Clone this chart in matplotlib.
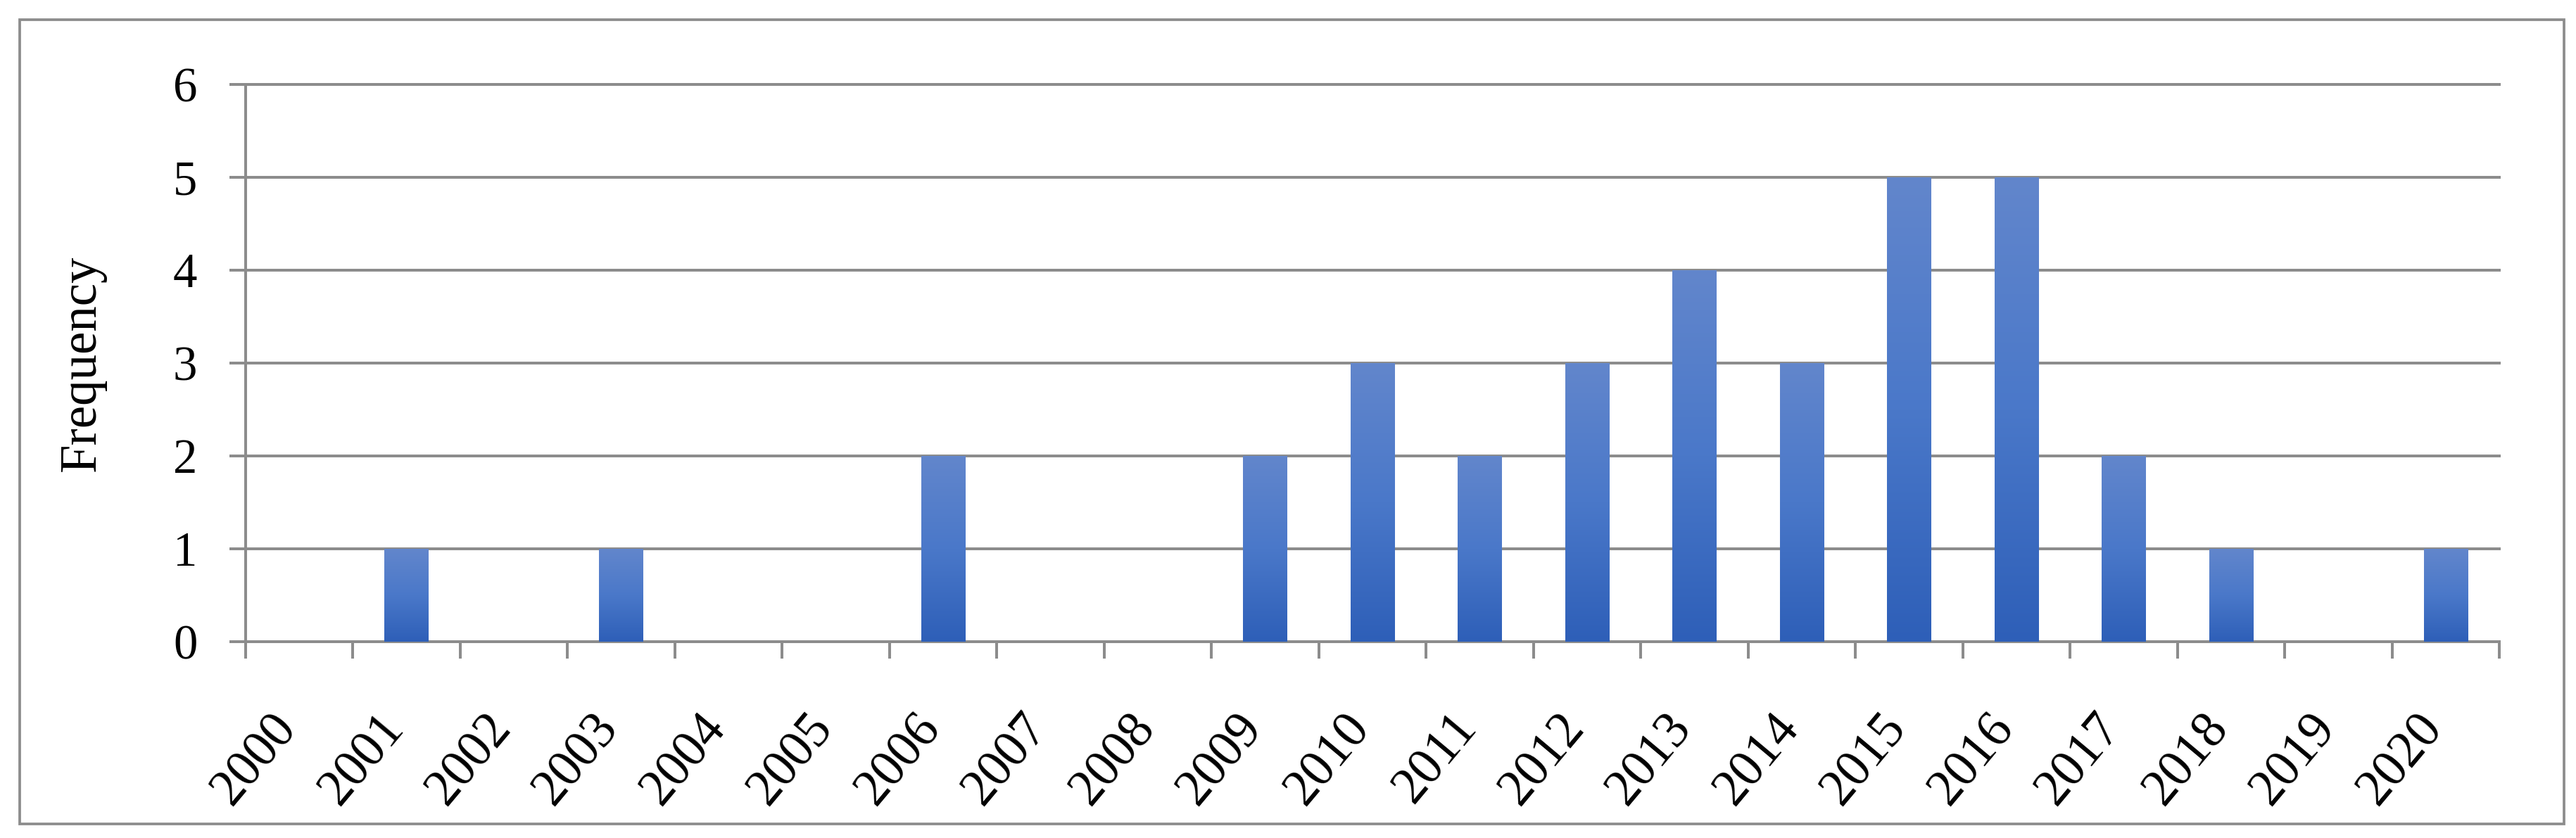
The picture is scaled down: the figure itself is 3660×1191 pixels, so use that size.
"""Frequency of publications per year, 2000-2020 (Excel-style gradient bars)."""
import matplotlib

matplotlib.use("Agg")
import matplotlib.pyplot as plt
import numpy as np
from matplotlib.colors import LinearSegmentedColormap
from matplotlib.patches import Rectangle
from matplotlib.transforms import ScaledTranslation

years = [str(y) for y in range(2000, 2021)]
counts = [0, 1, 0, 1, 0, 0, 2, 0, 0, 2, 3, 2, 3, 4, 3, 5, 5, 2, 1, 0, 1]
y_ticks = [0, 1, 2, 3, 4, 5, 6]

GRAY = "#8c8c8c"
FONT = "Liberation Serif"
FS = 16.5
plt.rcParams["font.family"] = [FONT, "DejaVu Serif"]

grad = LinearSegmentedColormap.from_list(
    "xl_blue", ["#2e5fb8", "#4a78c9", "#6286cc"])

fig = plt.figure(figsize=(12.2, 3.97), dpi=300)
# outer chart-area border
fig.add_artist(Rectangle((0.00765, 0.0168), 0.9877, 0.9597,
                         transform=fig.transFigure, fill=False,
                         edgecolor=GRAY, lw=0.9))

ax = fig.add_axes([0.09536, 0.23426, 0.87486, 0.66498])

x = np.arange(len(years)) + 0.5
bars = ax.bar(x, counts, width=0.41, color="none", edgecolor="none", zorder=3)
ramp = np.linspace(0, 1, 256).reshape(-1, 1)
for b in bars:
    h = b.get_height()
    if h <= 0:
        continue
    x0 = b.get_x()
    ax.imshow(ramp, extent=(x0, x0 + b.get_width(), 0, h), origin="lower",
              cmap=grad, aspect="auto", interpolation="bilinear", zorder=3)

ax.set_xlim(0, len(years))
ax.set_ylim(0, 6)

# y axis
ax.set_yticks(y_ticks)
ax.yaxis.grid(True, color=GRAY, lw=0.96, zorder=0)
for gl in ax.yaxis.get_gridlines():
    gl.set_clip_on(False)
ax.tick_params(axis="y", length=5.5, width=0.96, color=GRAY, pad=11,
               labelsize=FS, direction="out")
ax.set_ylabel("Frequency", fontsize=17.5)
ax.yaxis.set_label_coords(-0.062, 0.5)

# x axis: tick marks between categories, labels at centres
ax.set_xticks(np.arange(len(years) + 1))
ax.set_xticklabels([])
ax.set_xticks(x, minor=True)
ax.set_xticklabels(years, minor=True, rotation=50, ha="right", va="top",
                   fontsize=17.5)
ax.tick_params(axis="x", which="major", length=5.8, width=0.96, color=GRAY,
               direction="out")
ax.tick_params(axis="x", which="minor", length=0, pad=21.5)
shift = ScaledTranslation(10 / 300, 0, fig.dpi_scale_trans)
for lab in ax.get_xticklabels(minor=True):
    lab.set_transform(lab.get_transform() + shift)

for side in ("top", "right"):
    ax.spines[side].set_visible(False)
for side in ("left", "bottom"):
    ax.spines[side].set_color(GRAY)
    ax.spines[side].set_linewidth(0.96)
ax.set_axisbelow(True)

fig.savefig("out.png", dpi=300)
